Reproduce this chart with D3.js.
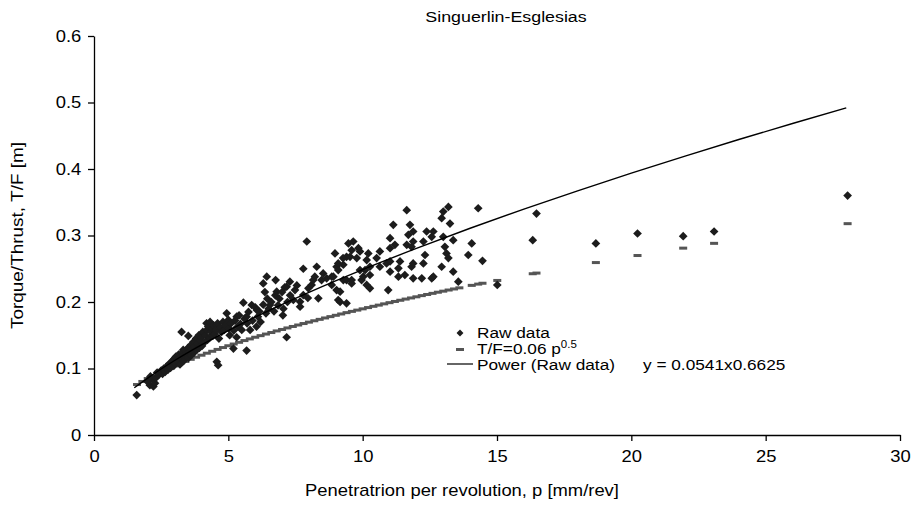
<!DOCTYPE html>
<html>
<head>
<meta charset="utf-8">
<script src="https://cdn.jsdelivr.net/npm/d3@7/dist/d3.min.js"></script>
<style>
  body { margin: 0; background: #fff; }
  svg { font-family: "Liberation Sans", Arial, sans-serif; }
</style>
</head>
<body>
<div id="chart"></div>
<script>
// raw data points [p, T/F]
var rawData = [
  [1.59,0.060],[2.08,0.075],[2.21,0.073],[2.08,0.085],[2.2,0.083],[2.27,0.078],
  [2.0,0.080],[2.1,0.088],[2.3,0.086],[2.35,0.094],[2.4,0.090],[2.5,0.097],[2.55,0.092],
  [2.6,0.100],[2.58,0.098],[2.65,0.095],[2.7,0.103],[2.75,0.098],[2.8,0.107],[2.85,0.101],
  [2.9,0.110],[2.95,0.113],[2.97,0.104],[3.0,0.115],[3.02,0.108],[3.05,0.118],[3.1,0.112],
  [3.15,0.121],[3.2,0.106],[3.22,0.116],[3.26,0.155],[3.32,0.128],[3.3,0.124],[3.33,0.119],
  [3.35,0.112],[3.4,0.127],[3.45,0.122],[3.51,0.149],[3.5,0.131],[3.52,0.116],[3.57,0.132],
  [3.55,0.125],[3.6,0.135],[3.62,0.120],[3.65,0.129],[3.7,0.140],[3.72,0.124],[3.75,0.133],
  [3.8,0.145],[3.82,0.128],[3.85,0.137],[3.9,0.150],[3.92,0.131],[3.95,0.142],[4.0,0.147],
  [4.02,0.134],[4.05,0.155],[4.1,0.139],[4.15,0.150],[4.19,0.168],[4.2,0.158],[4.22,0.143],
  [4.25,0.163],[4.3,0.146],[4.32,0.170],[4.35,0.155],[4.4,0.160],[4.42,0.149],[4.45,0.165],
  [4.5,0.152],[4.55,0.158],[4.57,0.110],[4.57,0.165],[4.6,0.168],[4.62,0.105],[4.65,0.145],
  [4.7,0.162],[4.75,0.155],[4.8,0.170],[4.85,0.158],[4.9,0.165],[4.94,0.183],[5.0,0.173],
  [5.02,0.160],[5.05,0.150],[5.1,0.168],[5.19,0.130],[5.2,0.157],[5.25,0.172],[5.31,0.147],
  [5.31,0.178],[5.35,0.163],[5.4,0.180],[5.45,0.167],[5.5,0.158],[5.56,0.199],[5.6,0.175],
  [5.68,0.127],[5.68,0.178],[5.7,0.168],[5.75,0.185],[5.81,0.158],[5.87,0.1955],[5.9,0.172],
  [6.0,0.192],[6.05,0.163],[6.06,0.188],[6.1,0.178],[6.15,0.186],[6.2,0.170],[6.3,0.228],
  [6.3,0.196],[6.36,0.215],[6.4,0.183],[6.43,0.238],[6.45,0.205],[6.5,0.190],[6.55,0.1955],
  [6.6,0.200],[6.7,0.186],[6.76,0.233],[6.8,0.2155],[6.75,0.210],[6.85,0.195],[6.9,0.205],
  [7.0,0.215],[7.03,0.180],[7.05,0.190],[7.1,0.222],[7.17,0.147],[7.17,0.223],[7.2,0.200],
  [7.29,0.2306],[7.3,0.210],[7.42,0.203],[7.48,0.218],[7.55,0.225],[7.67,0.2005],[7.67,0.193],
  [7.79,0.2105],[7.79,0.250],[7.92,0.291],[7.96,0.206],[7.98,0.2206],[8.1,0.2256],[8.16,0.233],
  [8.22,0.238],[8.29,0.253],[8.35,0.2055],[8.47,0.233],[8.53,0.243],[8.66,0.2356],[8.85,0.2256],
  [8.85,0.238],[8.91,0.238],[8.97,0.273],[9.03,0.253],[9.03,0.218],[9.09,0.248],[9.09,0.258],
  [9.09,0.203],[9.16,0.2155],[9.16,0.200],[9.27,0.266],[9.28,0.256],[9.28,0.233],[9.4,0.198],
  [9.4,0.233],[9.4,0.268],[9.47,0.288],[9.53,0.268],[9.59,0.278],[9.59,0.233],[9.59,0.228],
  [9.65,0.291],[9.78,0.266],[9.84,0.281],[9.9,0.276],[9.9,0.248],[9.96,0.233],[10.02,0.238],
  [10.09,0.248],[10.15,0.263],[10.15,0.2256],[10.21,0.273],[10.27,0.2205],[10.27,0.253],
  [10.27,0.2406],[10.52,0.266],[10.64,0.276],[10.64,0.253],[10.89,0.258],[10.95,0.218],
  [11.02,0.296],[11.02,0.281],[11.02,0.261],[11.02,0.2456],[11.14,0.316],[11.2,0.286],
  [11.33,0.2507],[11.33,0.238],[11.39,0.261],[11.57,0.2406],[11.64,0.338],[11.64,0.286],
  [11.7,0.301],[11.76,0.316],[11.82,0.283],[11.82,0.253],[11.88,0.306],[11.88,0.291],
  [11.88,0.2356],[11.88,0.258],[12.2,0.2356],[12.26,0.258],[12.26,0.291],[12.32,0.2707],
  [12.38,0.306],[12.57,0.298],[12.57,0.2356],[12.63,0.306],[12.63,0.238],[12.94,0.326],
  [12.94,0.253],[13.0,0.336],[13.0,0.298],[13.06,0.283],[13.12,0.273],[13.19,0.343],
  [13.19,0.266],[13.25,0.318],[13.37,0.293],[13.37,0.2456],[13.56,0.2306],[13.93,0.2707],
  [14.06,0.288],[14.3,0.341],[14.46,0.262],[15.01,0.2256],[16.33,0.293],[16.47,0.333],
  [18.68,0.288],[20.23,0.303],[21.93,0.299],[23.08,0.306],[28.05,0.360]
];

// T/F = 0.06 p^0.5 markers (dashes)
var tfData = [
  [1.6,0.0759],[1.8,0.0805],[2.0,0.0849],[2.2,0.0890],[2.4,0.0930],[2.6,0.0967],[2.8,0.1004],
  [3.0,0.1039],[3.2,0.1073],[3.4,0.1106],[3.6,0.1138],[3.8,0.1170],[4.0,0.1200],[4.2,0.1230],
  [4.4,0.1259],[4.6,0.1287],[4.8,0.1315],[5.0,0.1342],[5.2,0.1368],[5.4,0.1394],[5.6,0.1420],
  [5.8,0.1445],[6.0,0.1470],[6.2,0.1494],[6.4,0.1518],[6.6,0.1541],[6.8,0.1565],[7.0,0.1587],
  [7.2,0.1610],[7.4,0.1632],[7.6,0.1654],[7.8,0.1676],[8.0,0.1697],[8.2,0.1718],[8.4,0.1739],
  [8.6,0.1760],[8.8,0.1780],[9.0,0.1800],[9.2,0.1820],[9.4,0.1840],[9.6,0.1859],[9.8,0.1878],
  [10.0,0.1897],[10.2,0.1916],[10.4,0.1935],[10.6,0.1953],[10.8,0.1972],[11.0,0.1990],
  [11.2,0.2008],[11.4,0.2026],[11.6,0.2044],[11.8,0.2061],[12.0,0.2078],[12.2,0.2096],
  [12.4,0.2113],[12.6,0.2130],[12.8,0.2147],[13.0,0.2163],[13.2,0.2180],[13.4,0.2196],
  [13.6,0.2213],[14.06,0.2250],[14.3,0.2269],[14.46,0.2282],[15.01,0.2324],[16.33,0.2425],
  [16.47,0.2435],[18.68,0.2593],[20.23,0.2699],[21.93,0.2810],[23.08,0.2882],[28.05,0.3178]
];

// power trend line (Raw data)
var powerFit = [
  [1.5,0.071],[2,0.0856],[3,0.1120],[4,0.1355],[5,0.1571],[6,0.1773],[8,0.2145],[10,0.2487],
  [12,0.2806],[14,0.3109],[16,0.3396],[18,0.3671],[20,0.3937],[22,0.4193],[24,0.4443],
  [26,0.4684],[28,0.4920]
];

var xTicks = [0, 5, 10, 15, 20, 25, 30];
var yTicks = [0, 0.1, 0.2, 0.3, 0.4, 0.5, 0.6];

var width = 919, height = 510;
var stretch = 1.15; // the original lettering runs a bit wide

var svg = d3.select("#chart").append("svg")
    .attr("width", width)
    .attr("height", height);

var x = d3.scaleLinear().domain([0, 30]).range([94, 900]);
var y = d3.scaleLinear().domain([0, 0.6]).range([435, 36]);

function label(parent, px, py, str, size, anchor, rot) {
    return parent.append("text")
        .attr("transform", "translate(" + px + "," + py + ")" + (rot ? " rotate(" + rot + ")" : "") + " scale(" + stretch + ",1)")
        .attr("text-anchor", anchor || "start")
        .style("font-size", size + "px")
        .attr("fill", "#000")
        .text(str);
}

// title
label(svg, 506, 22, "Singuerlin-Esglesias", 15.5, "middle");

// axes
svg.append("g")
    .attr("transform", "translate(0," + y(0) + ")")
    .call(d3.axisBottom(x).tickValues(xTicks).tickSize(6).tickSizeOuter(0).tickPadding(10));

svg.append("g")
    .attr("transform", "translate(" + x(0) + ",0)")
    .call(d3.axisLeft(y).tickValues(yTicks).tickSize(6).tickSizeOuter(0).tickPadding(5)
        .tickFormat(function (d) { return d === 0 ? "0" : d3.format(".1f")(d); }));

svg.selectAll(".tick text")
    .style("font-size", "16px")
    .attr("fill", "#000")
    .attr("transform", "scale(" + stretch + ",1)");
svg.selectAll(".domain, .tick line")
    .attr("stroke", "#000")
    .attr("stroke-width", 1.3);

// axis titles
label(svg, 462, 496, "Penetratrion per revolution, p [mm/rev]", 16, "middle");
label(svg, 23, (y(0) + y(0.6)) / 2, "Torque/Thrust, T/F [m]", 16.5, "middle", -90);

// T/F dashes
svg.append("g").selectAll("rect")
    .data(tfData)
    .enter().append("rect")
    .attr("x", function (d) { return x(d[0]) - 4; })
    .attr("y", function (d) { return y(d[1]) - 1.5; })
    .attr("width", 8)
    .attr("height", 3)
    .attr("fill", "#555");

// raw data diamonds
var diamond = d3.symbol().type(d3.symbolSquare).size(38);
svg.append("g").selectAll("path")
    .data(rawData)
    .enter().append("path")
    .attr("d", diamond)
    .attr("transform", function (d) {
        return "translate(" + x(d[0]) + "," + y(d[1]) + ") rotate(45)";
    })
    .attr("fill", "#1c1c1c");

// power trend line
var line = d3.line()
    .x(function (d) { return x(d[0]); })
    .y(function (d) { return y(d[1]); })
    .curve(d3.curveMonotoneX);

svg.append("path")
    .datum(powerFit)
    .attr("d", line)
    .attr("fill", "none")
    .attr("stroke", "#000")
    .attr("stroke-width", 1.4);

// legend
var legend = svg.append("g");

legend.append("path")
    .attr("d", d3.symbol().type(d3.symbolSquare).size(24))
    .attr("transform", "translate(460,333) rotate(45)")
    .attr("fill", "#1c1c1c");
label(legend, 477, 338, "Raw data", 15);

legend.append("rect")
    .attr("x", 456).attr("y", 348).attr("width", 8).attr("height", 3)
    .attr("fill", "#555");
var tfLabel = label(legend, 477, 354, "", 15);
tfLabel.append("tspan").text("T/F=0.06 p");
tfLabel.append("tspan").attr("dy", -6).style("font-size", "10px").text("0.5");

legend.append("line")
    .attr("x1", 447).attr("x2", 473)
    .attr("y1", 364).attr("y2", 364)
    .attr("stroke", "#000").attr("stroke-width", 1.2);
label(legend, 477, 370, "Power (Raw data)", 15);
label(legend, 643, 370, "y = 0.0541x0.6625", 15);
</script>
</body>
</html>
